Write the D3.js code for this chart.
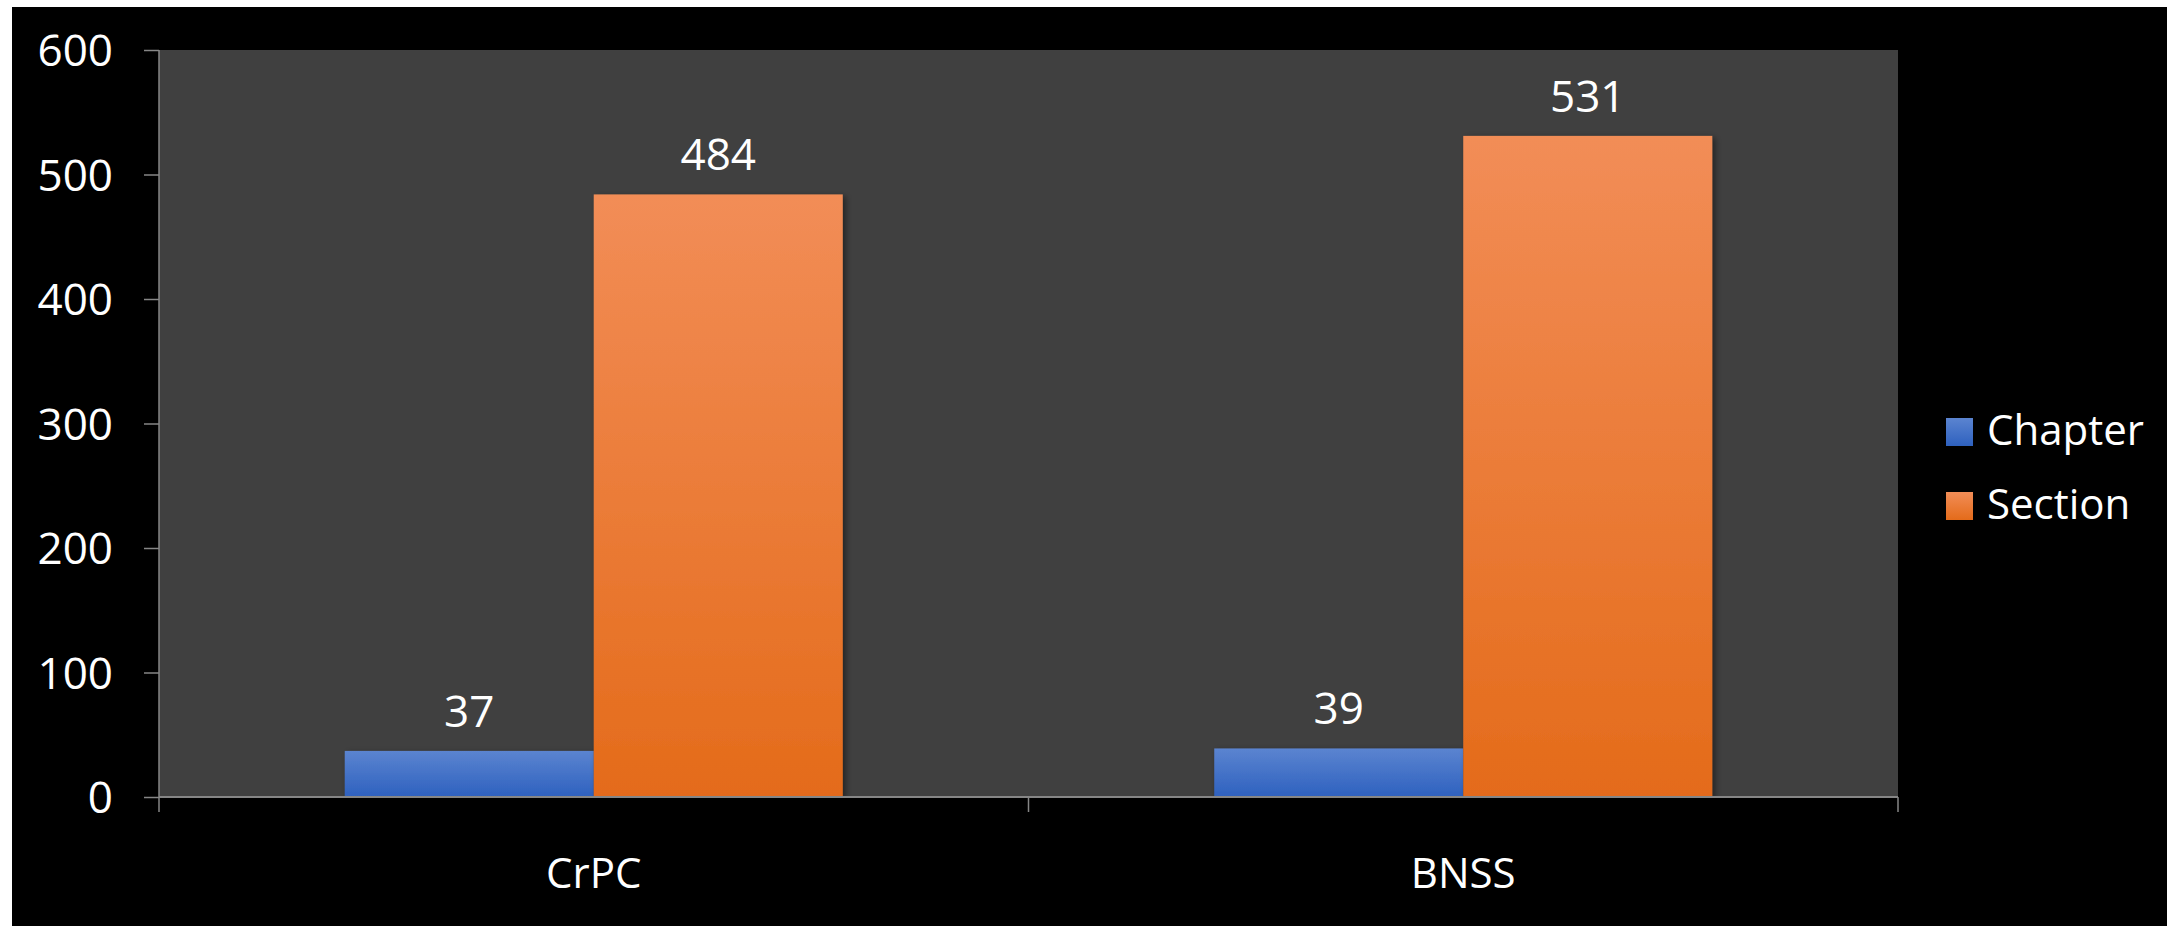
<!DOCTYPE html>
<html>
<head>
<meta charset="utf-8">
<script src="https://d3js.org/d3.v7.min.js"></script>
<style>
  html, body { margin: 0; padding: 0; background: #fff; }
  svg text { font-family: "Open Sans", "Noto Sans", sans-serif; fill: #fff; }
</style>
</head>
<body>
<div id="chart"></div>
<script>
(function(){

  var width = 2181, height = 926;

  // data
  var categories = ["CrPC", "BNSS"];
  var seriesNames = ["Chapter", "Section"];
  var chapterValues = [37, 39];
  var sectionValues = [484, 531];
  var yTicks = [0, 100, 200, 300, 400, 500, 600];

  var seriesColors = {
    "Chapter": ["#5b84d0", "#2e61bf"],
    "Section": ["#f28d57", "#e46b1a"]
  };

  var plot = {left: 159, right: 1898, top: 50, bottom: 797};

  var svg = d3.select("#chart").append("svg")
      .attr("width", width)
      .attr("height", height);

  // gradients + shadow
  var defs = svg.append("defs");
  seriesNames.forEach(function(s, i){
    var lg = defs.append("linearGradient")
        .attr("id", "grad" + i)
        .attr("x1", 0).attr("y1", 0).attr("x2", 0).attr("y2", 1);
    lg.append("stop").attr("offset", "0%").attr("stop-color", seriesColors[s][0]);
    lg.append("stop").attr("offset", "100%").attr("stop-color", seriesColors[s][1]);
  });
  defs.append("filter").attr("id", "shadow")
      .attr("x", "-10%").attr("y", "-10%").attr("width", "130%").attr("height", "130%")
    .append("feDropShadow")
      .attr("dx", 3).attr("dy", 2).attr("stdDeviation", 3)
      .attr("flood-color", "#000").attr("flood-opacity", 0.45);

  // backgrounds
  svg.append("rect")
      .attr("x", 12).attr("y", 7)
      .attr("width", 2167 - 12).attr("height", height - 7)
      .attr("fill", "#000");

  svg.append("rect")
      .attr("x", plot.left).attr("y", plot.top)
      .attr("width", plot.right - plot.left).attr("height", plot.bottom - plot.top)
      .attr("fill", "#404040");

  var x0 = d3.scaleBand()
      .domain(categories)
      .range([plot.left, plot.right])
      .padding(0);

  var x1 = d3.scaleBand()
      .domain(seriesNames)
      .range([0, x0.bandwidth()])
      .paddingInner(0)
      .paddingOuter(0.746);

  var y = d3.scaleLinear()
      .domain([0, 600])
      .range([plot.bottom, plot.top]);

  var rows = categories.map(function(c, i){
    return {cat: c, values: [
      {series: "Chapter", value: chapterValues[i]},
      {series: "Section", value: sectionValues[i]}
    ]};
  });

  // bars
  var groups = svg.selectAll(".cat")
      .data(rows)
    .enter().append("g")
      .attr("class", "cat")
      .attr("transform", function(d){ return "translate(" + x0(d.cat) + ",0)"; });

  groups.selectAll("rect")
      .data(function(d){ return d.values; })
    .enter().append("rect")
      .attr("x", function(d){ return x1(d.series); })
      .attr("y", function(d){ return y(d.value); })
      .attr("width", x1.bandwidth())
      .attr("height", function(d){ return y(0) - y(d.value); })
      .attr("fill", function(d){ return "url(#grad" + seriesNames.indexOf(d.series) + ")"; })
      .attr("filter", "url(#shadow)");

  // value labels
  groups.selectAll(".val")
      .data(function(d){ return d.values; })
    .enter().append("text")
      .attr("class", "val")
      .attr("x", function(d){ return x1(d.series) + x1.bandwidth() / 2; })
      .attr("y", function(d){ return y(d.value) - 24; })
      .attr("text-anchor", "middle")
      .style("font-size", "44px")
      .text(function(d){ return d.value; });

  // y axis
  var yAxis = svg.append("g")
      .attr("transform", "translate(" + plot.left + ",0)")
      .call(d3.axisLeft(y).tickValues(yTicks).tickSize(15).tickSizeOuter(0).tickPadding(31));
  yAxis.select(".domain").remove();
  yAxis.selectAll("line").attr("stroke", "#868686").attr("stroke-width", 1.5);
  yAxis.selectAll("text")
      .attr("fill", "#fff")
      .style("font-size", "44px")
      .attr("dy", "0.36em");

  svg.append("line")
      .attr("x1", plot.left).attr("x2", plot.left)
      .attr("y1", plot.top).attr("y2", plot.bottom + 15)
      .attr("stroke", "#868686").attr("stroke-width", 1.5);

  // x axis: line, boundary ticks and centred labels
  svg.append("line")
      .attr("x1", plot.left).attr("x2", plot.right)
      .attr("y1", y(0)).attr("y2", y(0))
      .attr("stroke", "#868686").attr("stroke-width", 2);

  var bounds = categories.map(function(c){ return x0(c); }).concat([x0.range()[1]]);
  svg.selectAll(".xtick")
      .data(bounds.slice(1))
    .enter().append("line")
      .attr("class", "xtick")
      .attr("x1", function(d){ return d; }).attr("x2", function(d){ return d; })
      .attr("y1", y(0)).attr("y2", y(0) + 15)
      .attr("stroke", "#868686").attr("stroke-width", 1.5);

  svg.selectAll(".xlabel")
      .data(categories)
    .enter().append("text")
      .attr("class", "xlabel")
      .attr("x", function(d){ return x0(d) + x0.bandwidth() / 2; })
      .attr("y", 888)
      .attr("text-anchor", "middle")
      .style("font-size", "42px")
      .text(function(d){ return d; });

  // legend
  var legend = svg.selectAll(".legend")
      .data(seriesNames)
    .enter().append("g")
      .attr("class", "legend")
      .attr("transform", function(d, i){ return "translate(1946," + (418 + i * 74) + ")"; });

  legend.append("rect")
      .attr("width", 27).attr("height", 28)
      .attr("fill", function(d, i){ return "url(#grad" + i + ")"; });

  legend.append("text")
      .attr("x", 41).attr("y", 27)
      .style("font-size", "42px")
      .text(function(d){ return d; });

})();
</script>
</body>
</html>
